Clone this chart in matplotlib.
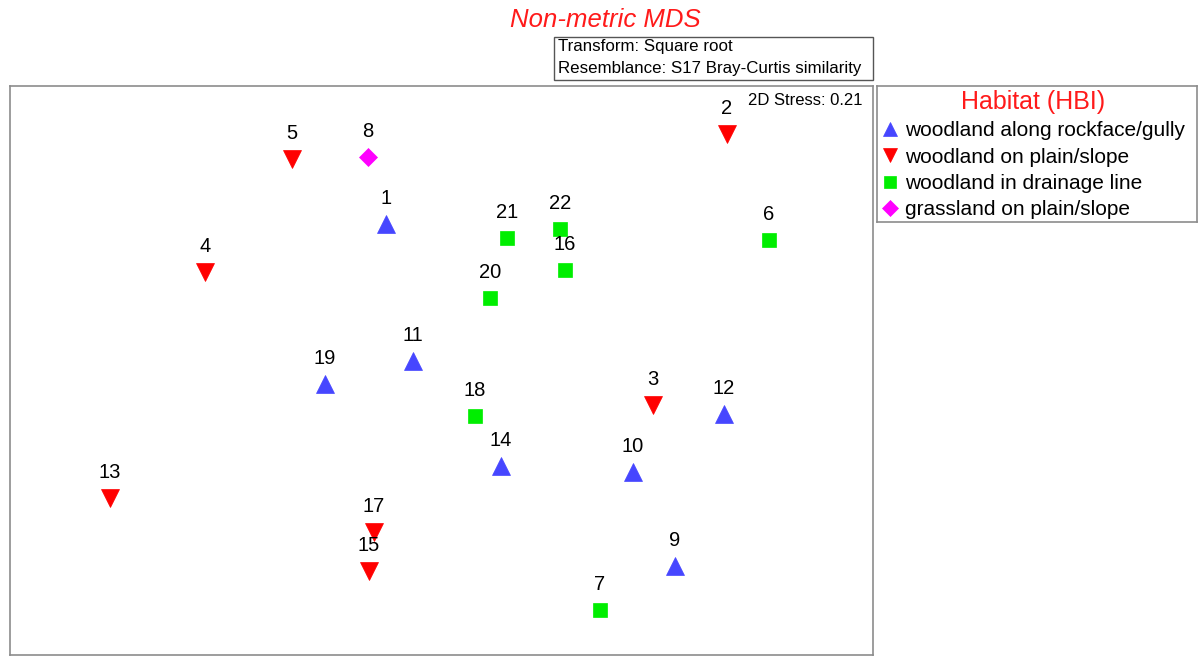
import matplotlib.pyplot as plt
from matplotlib.lines import Line2D
from matplotlib.patches import Rectangle

plt.rcParams['font.family'] = ['Liberation Sans', 'DejaVu Sans']

# NMDS ordination scores of the 22 sites
site = [1, 2, 3, 4, 5, 6, 7, 8, 9, 10, 11,
        12, 13, 14, 15, 16, 17, 18, 19, 20, 21, 22]
mds1 = [-0.55, 2.86, 2.12, -2.36, -1.49, 3.28, 1.59, -0.73, 2.34, 1.92, -0.28,
        2.83, -3.31, 0.60, -0.72, 1.24, -0.67, 0.34, -1.16, 0.49, 0.66, 1.19]
mds2 = [1.46, 2.36, -0.35, 0.98, 2.11, 1.30, -2.40, 2.13, -1.96, -1.02, 0.09,
        -0.44, -1.28, -0.96, -2.01, 1.00, -1.62, -0.46, -0.14, 0.72, 1.32, 1.41]
habitat = ['R', 'P', 'P', 'P', 'P', 'D', 'D', 'G', 'R', 'R', 'R',
           'R', 'P', 'R', 'P', 'D', 'P', 'D', 'R', 'D', 'D', 'D']

hab_names = {'R': 'woodland along rockface/gully',
             'P': 'woodland on plain/slope',
             'D': 'woodland in drainage line',
             'G': 'grassland on plain/slope'}
hab_order = ['R', 'P', 'D', 'G']
styles = {'R': dict(marker='^', color='#4646ff', ms=12.5),
          'P': dict(marker='v', color='#ff0000', ms=12.5),
          'D': dict(marker='s', color='#00ee00', ms=10.5),
          'G': dict(marker='D', color='#ff00ff', ms=9.5)}

W, H = 1198, 657
fig = plt.figure(figsize=(W / 100, H / 100), dpi=100)

ax = fig.add_axes([10 / W, 2 / H, 863 / W, 569 / H])
for h in hab_order:
    xs = [x for x, g in zip(mds1, habitat) if g == h]
    ys = [y for y, g in zip(mds2, habitat) if g == h]
    st = styles[h]
    ax.plot(xs, ys, linestyle='none', marker=st['marker'], color=st['color'],
            markersize=st['ms'], markeredgewidth=0.5, markeredgecolor=st['color'])

for s, x, y in zip(site, mds1, mds2):
    ax.annotate(str(s), (x, y), xytext=(0, 18.3), textcoords='offset points',
                ha='center', va='center', fontsize=14.5, color='black')

ax.set_xlim(-4.31, 4.32)
ax.set_ylim(-2.85, 2.84)
ax.set_xticks([])
ax.set_yticks([])
for sp in ax.spines.values():
    sp.set_color('#8c8c8c')
    sp.set_linewidth(1.2)

ax.text(0.988, 0.987, '2D Stress: 0.21', transform=ax.transAxes,
        ha='right', va='top', fontsize=12)

fig.text(605 / W, 1 - 20 / H, 'Non-metric MDS', color='#ff1a1a',
         fontsize=18.5, style='italic', ha='center', va='center')

# transform/resemblance box
fig.patches.append(Rectangle((554 / W, 1 - 80 / H), 319 / W, 43 / H,
                             transform=fig.transFigure, fc='white',
                             ec='#555555', lw=1))
fig.text(558 / W, 1 - 47 / H, 'Transform: Square root',
         fontsize=12.2, ha='left', va='center')
fig.text(558 / W, 1 - 68 / H, 'Resemblance: S17 Bray-Curtis similarity',
         fontsize=12.2, ha='left', va='center')

# legend panel
lax = fig.add_axes([877 / W, 1 - 222 / H, 320 / W, 136 / H])
lax.set_xticks([])
lax.set_yticks([])
for sp in lax.spines.values():
    sp.set_color('#8c8c8c')
    sp.set_linewidth(1.2)
handles = [Line2D([], [], linestyle='none', marker=styles[h]['marker'],
                  color=styles[h]['color'], markersize=styles[h]['ms'] * 0.85,
                  markeredgewidth=0.5, markeredgecolor=styles[h]['color'])
           for h in hab_order]
leg = lax.legend(handles, [hab_names[h] for h in hab_order], loc='upper left',
                 frameon=False, fontsize=15, title='Habitat (HBI)',
                 title_fontsize=18, handlelength=0.8, handletextpad=0.35,
                 labelspacing=0.35, borderaxespad=0.0, borderpad=0.2)
leg.get_title().set_color('#ff1a1a')

fig.savefig('out.png', dpi=100)
